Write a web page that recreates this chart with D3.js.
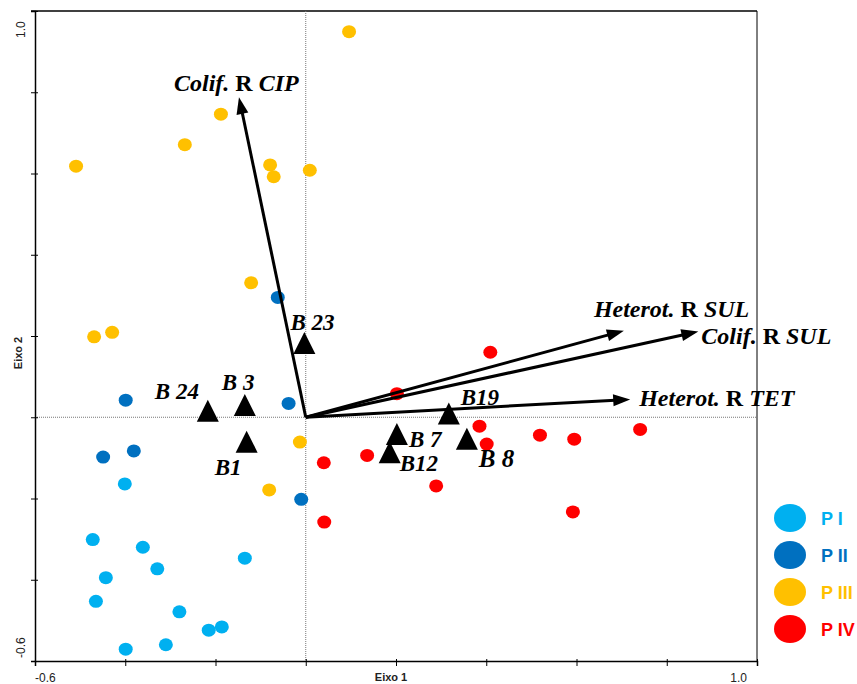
<!DOCTYPE html>
<html>
<head>
<meta charset="utf-8">
<script src="https://cdn.jsdelivr.net/npm/d3@7"></script>
<style>
  body { margin: 0; background: #fff; }
  svg { display: block; }
  .lbl { font-family: "Liberation Serif", "Times New Roman", serif; font-weight: bold; font-style: italic; fill: #000; }
  .axis path, .axis line { stroke: #000; }
  .tick-lbl { font-family: "Liberation Sans", Arial, sans-serif; font-size: 12px; fill: #222; }
  .ax-title { font-family: "Liberation Sans", Arial, sans-serif; font-size: 11px; font-weight: bold; fill: #222; }
  .leg { font-family: "Liberation Sans", Arial, sans-serif; font-size: 18px; font-weight: bold; }
</style>
</head>
<body>
<svg id="chart" width="857" height="684"></svg>
<script>
// site scores, one small array per group: [eixo 1, eixo 2]
const groups = ["P I", "P II", "P III", "P IV"];
const pI = [[-0.401,-0.164],[-0.472,-0.301],[-0.361,-0.320],[-0.443,-0.395],[-0.329,-0.373],[-0.465,-0.453],
            [-0.135,-0.347],[-0.280,-0.479],[-0.215,-0.524],[-0.186,-0.516],[-0.310,-0.560],[-0.399,-0.571]];
const pII = [[-0.062,0.295],[-0.399,0.042],[-0.038,0.034],[-0.449,-0.098],[-0.381,-0.083],[-0.010,-0.202]];
const pIII = [[0.096,0.949],[-0.188,0.746],[-0.268,0.671],[-0.509,0.618],[-0.079,0.621],[-0.071,0.592],
              [0.009,0.608],[-0.121,0.331],[-0.429,0.209],[-0.469,0.198],[-0.013,-0.061],[-0.081,-0.179]];
const pIV = [[0.409,0.160],[0.202,0.058],[0.040,-0.112],[0.136,-0.094],[0.289,-0.169],[0.385,-0.022],
             [0.401,-0.066],[0.519,-0.044],[0.595,-0.054],[0.741,-0.030],[0.592,-0.233],[0.041,-0.258]];

// bacteria (triangles)
const samples = ["B 23", "B 3", "B 24", "B1", "B19", "B 7", "B12", "B 8"];
const sampleX = [-0.003, -0.135, -0.217, -0.131, 0.317, 0.202, 0.186, 0.357];
const sampleY = [0.183, 0.030, 0.016, -0.060, 0.009, -0.041, -0.086, -0.053];

// resistance vectors
const vecGroup = ["Colif.", "Heterot.", "Colif.", "Heterot."];
const vecDrug = ["CIP", "SUL", "SUL", "TET"];
const vecX = [-0.148, 0.705, 0.870, 0.719];
const vecY = [0.788, 0.213, 0.211, 0.044];

const axisTicks = [-0.6, -0.4, -0.2, 0, 0.2, 0.4, 0.6, 0.8, 1.0];

const colors = ["#00B0F0", "#0070C0", "#FFC000", "#FF0000"];

const margin = {top: 11, left: 35};
const width = 722, height = 650;

const svg = d3.select("#chart");
const g = svg.append("g").attr("transform", "translate(" + margin.left + "," + margin.top + ")");

const x = d3.scaleLinear().domain([-0.6, 1.0]).range([0, width]);
const y = d3.scaleLinear().domain([-0.6, 1.0]).range([height, 0]);

// frame (top / right)
g.append("line").attr("x1", -4).attr("x2", width).attr("y1", 0).attr("y2", 0).attr("stroke", "#000").attr("stroke-width", 1.5);
g.append("line").attr("x1", width).attr("x2", width).attr("y1", 0).attr("y2", height).attr("stroke", "#000").attr("stroke-width", 1);

// dotted zero lines
g.append("line").attr("x1", 0).attr("x2", width).attr("y1", y(0)).attr("y2", y(0))
  .attr("stroke", "#777").attr("stroke-dasharray", "1,1");
g.append("line").attr("x1", x(0)).attr("x2", x(0)).attr("y1", 0).attr("y2", height)
  .attr("stroke", "#777").attr("stroke-dasharray", "1,1");

// axes
const xAx = g.append("g").attr("class", "axis").attr("transform", "translate(0," + height + ")")
  .call(d3.axisBottom(x).tickValues(axisTicks).tickSizeOuter(0).tickSize(5).tickFormat(""));
xAx.select(".domain").attr("stroke-width", 1.5);
xAx.selectAll(".tick line").attr("y1", -2);

const yAx = g.append("g").attr("class", "axis")
  .call(d3.axisLeft(y).tickValues(axisTicks).tickSizeOuter(0).tickSize(4).tickFormat(""));
yAx.select(".domain").attr("stroke-width", 1.5);
yAx.selectAll(".tick line").attr("x1", 3);

// end labels only, as in the original
g.append("text").attr("class", "tick-lbl").attr("x", x(-0.6)).attr("y", height + 21).text("-0.6");
g.append("text").attr("class", "tick-lbl").attr("x", x(1.0) - 10).attr("y", height + 21)
  .attr("text-anchor", "end").text("1.0");
g.append("text").attr("class", "tick-lbl")
  .attr("transform", "translate(-10," + (y(1.0) + 27) + ") rotate(-90)").text("1.0");
g.append("text").attr("class", "tick-lbl")
  .attr("transform", "translate(-10," + (y(-0.6) - 3) + ") rotate(-90)").text("-0.6");

g.append("text").attr("class", "ax-title").attr("x", x(0.2) - 5).attr("y", height + 20)
  .attr("text-anchor", "middle").text("Eixo 1");
g.append("text").attr("class", "ax-title").attr("text-anchor", "middle")
  .attr("transform", "translate(-13," + (y(0.2) + 17) + ") rotate(-90)").text("Eixo 2");

// site points
[pI, pII, pIII, pIV].forEach((pts, i) => {
  g.append("g").selectAll("ellipse").data(pts).enter().append("ellipse")
    .attr("cx", d => x(d[0])).attr("cy", d => y(d[1]))
    .attr("rx", 7).attr("ry", 6.5).attr("fill", colors[i]);
});

// vectors
const vecOffsets = [[-65, -6], [-30, -14], [3, 12], [9, 7]];
const vecs = vecX.map((v, i) => ({x: v, y: vecY[i], a: vecGroup[i], b: vecDrug[i], off: vecOffsets[i]}));
const vg = g.append("g");
vecs.forEach(v => {
  const x0 = x(0), y0 = y(0), x1 = x(v.x), y1 = y(v.y);
  const ang = Math.atan2(y1 - y0, x1 - x0);
  const len = 17, hw = 6;
  const bx = x1 - len * Math.cos(ang), by = y1 - len * Math.sin(ang);
  vg.append("line").attr("x1", x0).attr("y1", y0).attr("x2", bx + 2 * Math.cos(ang)).attr("y2", by + 2 * Math.sin(ang))
    .attr("stroke", "#000").attr("stroke-width", 3);
  const pts = [[x1, y1],
    [bx + hw * Math.sin(ang), by - hw * Math.cos(ang)],
    [bx - hw * Math.sin(ang), by + hw * Math.cos(ang)]];
  vg.append("polygon").attr("points", pts.map(p => p.join(",")).join(" ")).attr("fill", "#000");
  const t = vg.append("text").attr("class", "lbl").attr("font-size", 24)
    .attr("x", x1 + v.off[0]).attr("y", y1 + v.off[1]);
  t.append("tspan").text(v.a + " ");
  t.append("tspan").attr("font-style", "normal").text("R ");
  t.append("tspan").text(v.b);
});

// bacteria triangles
const tri = 11;
const sampleOffsets = [[-14, -13], [-23, -15], [-53, -11.5], [-32, 33], [12, -8.5], [12, 13], [10, 18.4], [12, 28.5]];
const sampleSizes = [23, 23, 23, 23, 23, 23, 23, 25];
const bg = g.append("g");
samples.forEach((s, i) => {
  const cx = x(sampleX[i]), cy = y(sampleY[i]);
  bg.append("path")
    .attr("d", "M" + cx + "," + (cy - tri) + "L" + (cx + tri) + "," + (cy + tri) + "L" + (cx - tri) + "," + (cy + tri) + "Z")
    .attr("fill", "#000");
  bg.append("text").attr("class", "lbl").attr("font-size", sampleSizes[i])
    .attr("x", cx + sampleOffsets[i][0]).attr("y", cy + sampleOffsets[i][1]).text(s);
});

// legend
const leg = svg.append("g").attr("transform", "translate(790,518)");
groups.forEach((name, i) => {
  const row = leg.append("g").attr("transform", "translate(0," + (i * 37) + ")");
  row.append("ellipse").attr("rx", 16).attr("ry", 14).attr("fill", colors[i]);
  row.append("text").attr("class", "leg").attr("x", 31).attr("y", 7).attr("fill", colors[i]).text(name);
});
</script>
</body>
</html>
